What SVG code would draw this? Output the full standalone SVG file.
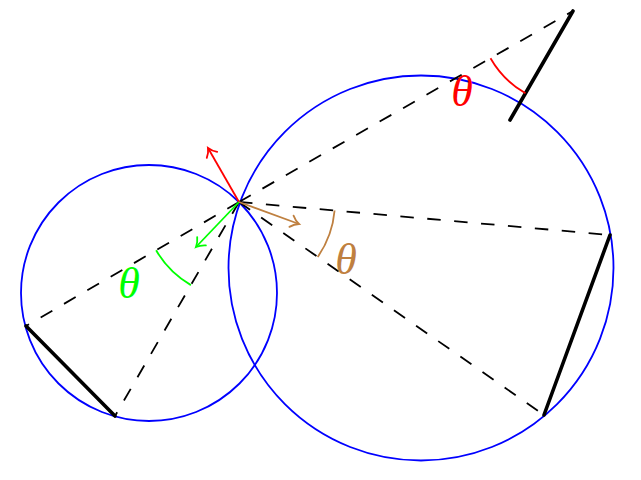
<svg xmlns="http://www.w3.org/2000/svg" width="641" height="480" viewBox="0 0 641 480">
<style>
.circ{fill:none;stroke:#0000ff;stroke-width:1.8}
.dash{fill:none;stroke:#000;stroke-width:1.8;stroke-dasharray:13.5 13.5}
.thick{fill:none;stroke:#000;stroke-width:3.6;stroke-linecap:round}
.thin{fill:none;stroke-width:1.8}
.lbl{font-family:"Liberation Serif","DejaVu Serif",serif;font-style:italic;font-size:44px;text-anchor:middle}
</style>
<defs>
<marker id="mr" markerUnits="userSpaceOnUse" orient="auto" refX="0" refY="0" overflow="visible" markerWidth="20" markerHeight="20">
<path d="M -8,-6 C -5,-2.5 -1.5,-0.6 0,0 C -1.5,0.6 -5,2.5 -8,6" fill="none" stroke="#ff0000" stroke-width="1.8" stroke-linecap="round"/>
</marker>
<marker id="mg" markerUnits="userSpaceOnUse" orient="auto" refX="0" refY="0" overflow="visible" markerWidth="20" markerHeight="20">
<path d="M -8,-6 C -5,-2.5 -1.5,-0.6 0,0 C -1.5,0.6 -5,2.5 -8,6" fill="none" stroke="#00ff00" stroke-width="1.8" stroke-linecap="round"/>
</marker>
<marker id="mb" markerUnits="userSpaceOnUse" orient="auto" refX="0" refY="0" overflow="visible" markerWidth="20" markerHeight="20">
<path d="M -8,-6 C -5,-2.5 -1.5,-0.6 0,0 C -1.5,0.6 -5,2.5 -8,6" fill="none" stroke="#bf8040" stroke-width="1.8" stroke-linecap="round"/>
</marker>
</defs>
<rect width="641" height="480" fill="#fff"/>
<g id="circles">
<circle class="circ" cx="149" cy="293" r="128"/>
<circle class="circ" cx="421" cy="268" r="192.5"/>
</g>
<g id="connectors">
<line class="dash" x1="239" y1="202" x2="573" y2="11"/>
<line class="dash" x1="239" y1="202" x2="610" y2="235"/>
<line class="dash" x1="239" y1="202" x2="544" y2="415"/>
<line class="dash" x1="239" y1="202" x2="26" y2="326"/>
<line class="dash" x1="239" y1="202" x2="115" y2="416"/>
<line class="thick" x1="573" y1="11" x2="510" y2="120"/>
<line class="thick" x1="610" y1="235" x2="544" y2="415"/>
<line class="thick" x1="26" y1="326" x2="115" y2="416"/>
<line class="thin" stroke="#ff0000" x1="239" y1="202" x2="208" y2="148" marker-end="url(#mr)"/>
<line class="thin" stroke="#00ff00" x1="239" y1="202" x2="196" y2="247" marker-end="url(#mg)"/>
<line class="thin" stroke="#bf8040" x1="239" y1="202" x2="299" y2="224" marker-end="url(#mb)"/>
</g>
<g id="angles">
<path class="thin" stroke="#ff0000" d="M 490.5,58.2 A 95 95 0 0 0 525.5,93.3"/>
<path class="thin" stroke="#00ff00" d="M 156.1,250.3 A 96 96 0 0 0 190.9,285.1"/>
<path class="thin" stroke="#bf8040" d="M 334.6,210.5 A 96 96 0 0 1 317.7,257"/>
</g>
<g id="labels">
<text class="lbl" x="462" y="106" fill="#ff0000">θ</text>
<text class="lbl" x="129" y="298" fill="#00ff00">θ</text>
<text class="lbl" x="346" y="274" fill="#bf8040">θ</text>
</g>
</svg>
